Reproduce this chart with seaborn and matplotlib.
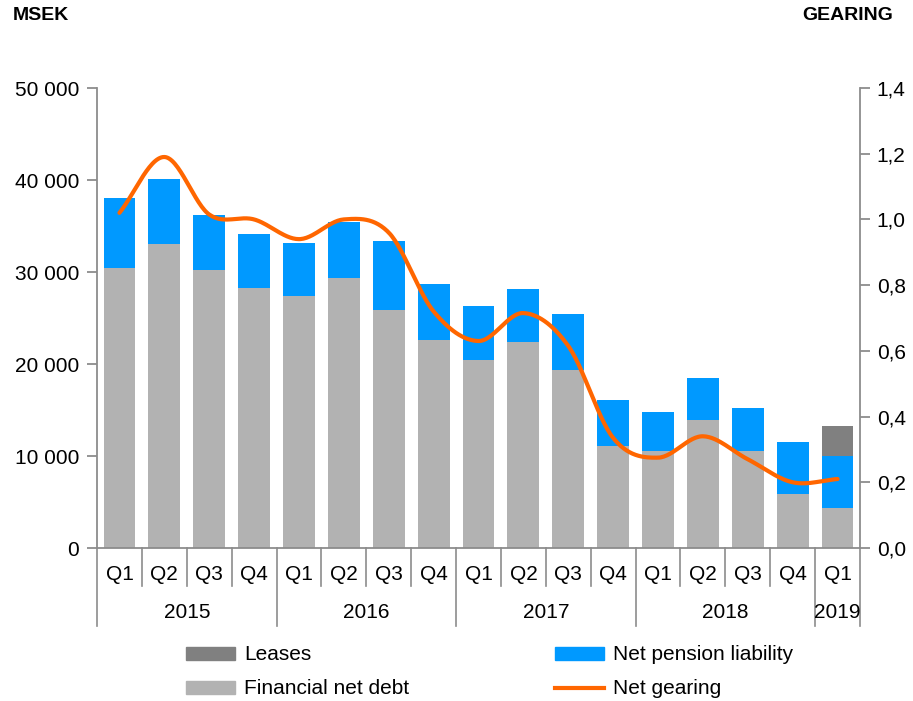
import numpy as np
import pandas as pd
import matplotlib
matplotlib.use("Agg")
import matplotlib.pyplot as plt
import seaborn as sns
from matplotlib.patches import Patch
from matplotlib.lines import Line2D

years = ["2015", "2016", "2017", "2018", "2019"]
quarters = ["Q1", "Q2", "Q3", "Q4", "Q1", "Q2", "Q3", "Q4", "Q1", "Q2", "Q3", "Q4",
            "Q1", "Q2", "Q3", "Q4", "Q1"]
year_of = ["2015"] * 4 + ["2016"] * 4 + ["2017"] * 4 + ["2018"] * 4 + ["2019"]
financial_net_debt = [30400, 33000, 30200, 28300, 27400, 29300, 25900, 22600,
                      20400, 22400, 19300, 11100, 10500, 13900, 10500, 5900, 4400]
net_pension = [7600, 7100, 6000, 5800, 5800, 6100, 7500, 6100,
               5900, 5800, 6100, 5000, 4300, 4600, 4700, 5600, 5600]
leases = [0] * 16 + [3260]
net_gearing = [1.02, 1.19, 1.015, 1.0, 0.94, 1.0, 0.96, 0.72,
               0.63, 0.715, 0.615, 0.335, 0.275, 0.34, 0.27, 0.2, 0.21]

C_FIN = "#B2B2B2"
C_PEN = "#0099FF"
C_LEA = "#808080"
C_GEAR = "#FF6600"
C_AX = "#8C8C8C"

FONT = ["Liberation Sans", "DejaVu Sans"]
plt.rcParams["font.family"] = FONT
FS = 15

ids = [f"{y} {q}" for y, q in zip(year_of, quarters)]
df = pd.DataFrame({
    "id": ids,
    "fin": financial_net_debt,
    "pen": net_pension,
    "lea": leases,
})
df["fin_pen"] = df["fin"] + df["pen"]
df["total"] = df["fin_pen"] + df["lea"]

W, H = 913, 701
fig = plt.figure(figsize=(W / 100, H / 100), dpi=100)
L, R, T, B = 97, 860, 88, 548
ax = fig.add_axes([L / W, 1 - B / H, (R - L) / W, (B - T) / H])

sns.barplot(data=df, x="id", y="total", color=C_LEA, width=0.71, ax=ax,
            saturation=1, order=ids, linewidth=0)
sns.barplot(data=df, x="id", y="fin_pen", color=C_PEN, width=0.71, ax=ax,
            saturation=1, order=ids, linewidth=0)
sns.barplot(data=df, x="id", y="fin", color=C_FIN, width=0.71, ax=ax,
            saturation=1, order=ids, linewidth=0)

ax.set_xlim(-0.5, len(ids) - 0.5)
ax.set_ylim(0, 50000)
ax.set_yticks(np.arange(0, 50001, 10000))
ax.set_yticklabels(["0" if v == 0 else f"{v // 1000} 000" for v in range(0, 50001, 10000)],
                   fontsize=FS)
ax.set_xticks([])
ax.set_xlabel("")
ax.set_ylabel("")
for s in ["top", "right"]:
    ax.spines[s].set_visible(False)
for s in ["left", "bottom"]:
    ax.spines[s].set_color(C_AX)
    ax.spines[s].set_linewidth(1.3)
ax.tick_params(axis="y", colors=C_AX, length=7, width=1.3, labelcolor="black", pad=6)
ax.patch.set_alpha(0)

# secondary axis with smoothed gearing line
ax2 = ax.twinx()
ax2.set_ylim(0, 1.4)
ax2.set_yticks(np.arange(0, 1.41, 0.2))
ax2.set_yticklabels([f"{v:.1f}".replace(".", ",") for v in np.arange(0, 1.41, 0.2)], fontsize=FS)
for s in ["top", "left", "bottom"]:
    ax2.spines[s].set_visible(False)
ax2.spines["right"].set_color(C_AX)
ax2.spines["right"].set_linewidth(1.3)
ax2.tick_params(axis="y", colors=C_AX, length=7, width=1.3, labelcolor="black", pad=5)


def catmull_rom(xs, ys, n=30):
    xs = np.asarray(xs, float)
    ys = np.asarray(ys, float)
    P = np.column_stack([xs, ys])
    P = np.vstack([2 * P[0] - P[1], P, 2 * P[-1] - P[-2]])
    out = []
    for i in range(1, len(P) - 2):
        p0, p1, p2, p3 = P[i - 1], P[i], P[i + 1], P[i + 2]
        t = np.linspace(0, 1, n, endpoint=False)[:, None]
        seg = 0.5 * ((2 * p1) + (-p0 + p2) * t + (2 * p0 - 5 * p1 + 4 * p2 - p3) * t ** 2
                     + (-p0 + 3 * p1 - 3 * p2 + p3) * t ** 3)
        out.append(seg)
    out.append(P[-2][None, :])
    out = np.vstack(out)
    return out[:, 0], out[:, 1]


sx, sy = catmull_rom(np.arange(len(net_gearing)), net_gearing)
sns.lineplot(x=sx, y=sy, ax=ax2, color=C_GEAR, linewidth=3, sort=False,
             estimator=None, solid_capstyle="round")
ax2.set_xlim(-0.5, len(ids) - 0.5)

# category axis: separators and labels
trans = ax.get_xaxis_transform()
px = 1.0 / (B - T)  # one pixel in axes fraction
q_depth = -(586 - B) * px
y_depth = -(626 - B) * px
year_bounds = [-0.5, 3.5, 7.5, 11.5, 15.5, 16.5]
for i in range(len(ids) + 1):
    xb = i - 0.5
    depth = y_depth if xb in year_bounds else q_depth
    ax.plot([xb, xb], [0, depth], transform=trans, color=C_AX, lw=1.2, clip_on=False)
for i, q in enumerate(quarters):
    ax.text(i, -(575 - B) * px, q, transform=trans, ha="center", va="center", fontsize=FS)
for k, yr in enumerate(years):
    mid = (year_bounds[k] + year_bounds[k + 1]) / 2
    ax.text(mid, -(612 - B) * px, yr, transform=trans, ha="center", va="center", fontsize=FS)

fig.text(13 / W, 1 - 16 / H, "MSEK", fontsize=14, fontweight="bold", ha="left", va="center")
fig.text(893 / W, 1 - 16 / H, "GEARING", fontsize=14, fontweight="bold", ha="right", va="center")

handles = [Patch(color=C_LEA), Patch(color=C_FIN), Patch(color=C_PEN),
           Line2D([0], [0], color=C_GEAR, lw=3)]
labels = ["Leases", "Financial net debt", "Net pension liability", "Net gearing"]
fig.legend(handles, labels, ncol=2, loc="center left",
           bbox_to_anchor=(186 / W, 1 - 672 / H), frameon=False, fontsize=FS,
           handlelength=2.35, handleheight=0.6, handletextpad=0.43,
           columnspacing=7.0, labelspacing=0.72, borderpad=0, borderaxespad=0)

fig.savefig("out.png", dpi=100)
